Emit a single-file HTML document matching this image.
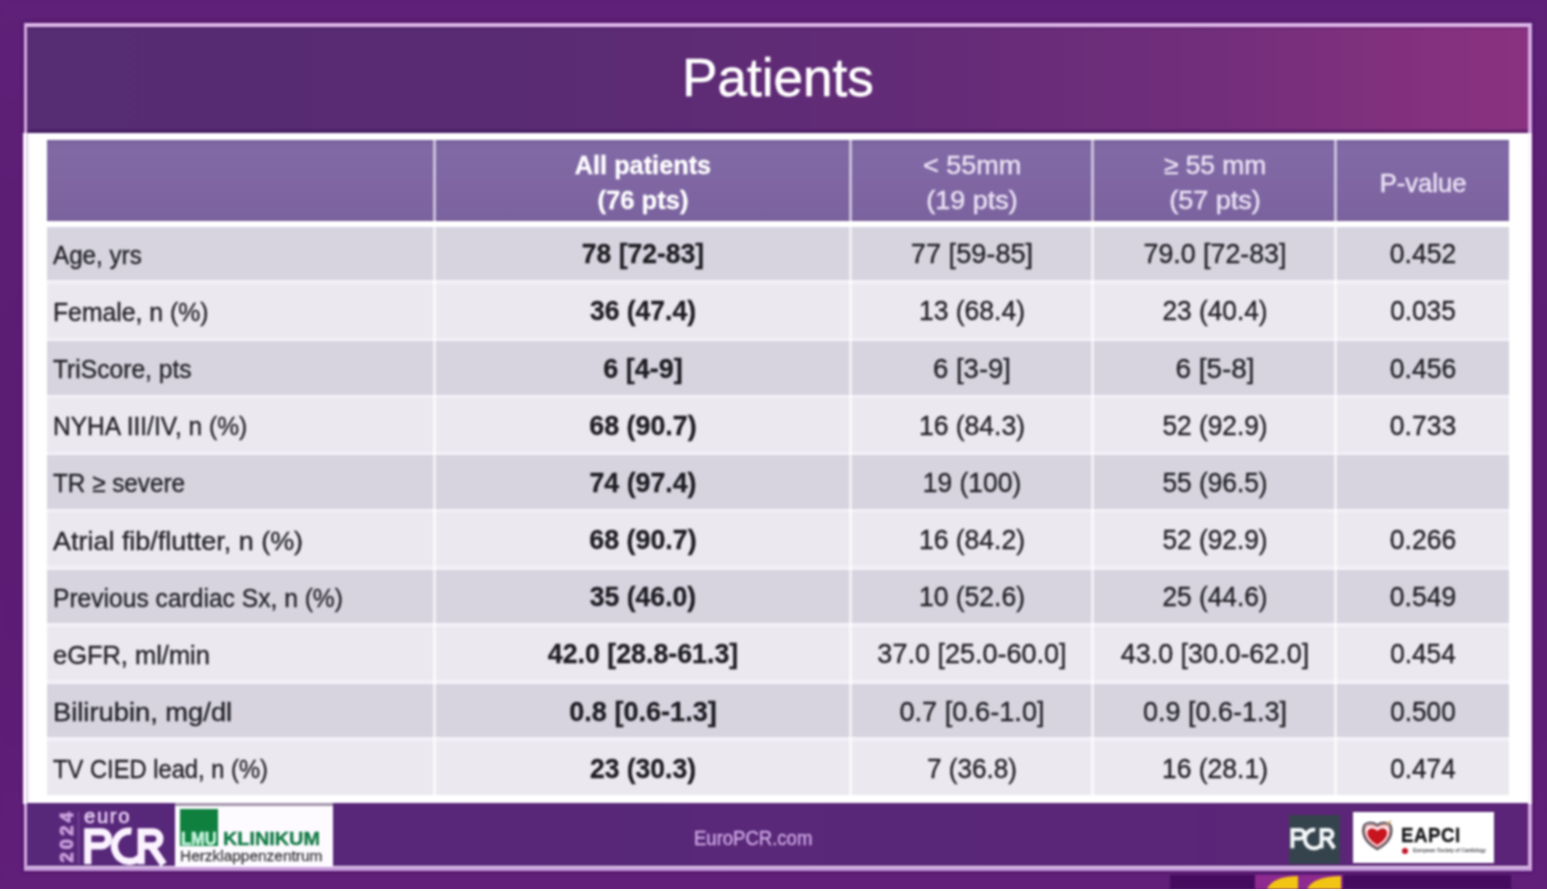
<!DOCTYPE html>
<html><head><meta charset="utf-8"><title>Patients</title>
<style>
html,body{margin:0;padding:0}
body{width:1547px;height:891px;overflow:hidden;position:relative;background:#5e2079;font-family:"Liberation Sans",sans-serif;}
.abs{position:absolute}
#stage{position:absolute;left:0;top:0;width:1547px;height:891px;overflow:hidden;filter:blur(1.0px)}
.cell{position:absolute}
.t{position:absolute;white-space:nowrap;font-size:25.8px;line-height:30px;height:30px;color:#222126;-webkit-text-stroke:0.35px #222126;}
.t.c{transform-origin:50% 50%;text-align:center}
.t.l{transform-origin:0 50%}
.t.b{font-weight:bold;color:#1d1c21;-webkit-text-stroke:0.3px #1d1c21}
.t.n{font-size:27.3px}
.h{position:absolute;white-space:nowrap;font-size:25.8px;line-height:30px;height:30px;text-align:center;transform-origin:50% 50%}

</style></head><body><div id="stage">
<div class="abs" style="left:0;top:0;width:1547px;height:891px;background:linear-gradient(180deg,#5e2078 0%,#5b1c73 45%,#5d1d76 80%,#611f7a 100%)"></div>
<div class="abs" style="left:1170px;top:875px;width:341px;height:14px;background:#440b5e"></div>
<div class="abs" style="left:1255px;top:875px;width:88px;height:14px;background:#8f2a90"></div>
<svg class="abs" style="left:1255px;top:875px" width="88" height="14" viewBox="0 0 88 14"><path d="M12 14 C16 6 26 1 43 1 L43 14 Z" fill="#f2c515"/><path d="M52 14 C56 6 68 1 86 1 L86 14 Z" fill="#f2c515"/></svg>
<div class="abs" style="left:23.6px;top:23.4px;width:1500.4px;height:840px;border:4px solid #d5aae3;border-top-color:#e0b9ea;border-bottom:4.6px solid #c69cda;background:#fff;box-shadow:0 0 3px 1px rgba(55,8,80,.55)"></div>
<div class="abs" style="left:27px;top:27px;width:1501px;height:105.8px;background:linear-gradient(180deg,rgba(40,5,70,.28) 0,rgba(40,5,70,0) 3px,rgba(40,5,70,0) 101.5px,rgba(40,5,70,.38) 104px,rgba(40,5,70,.38) 106px),linear-gradient(90deg,#562c72 0%,#592b73 32%,#632b77 58%,#712e7b 78%,#85317f 94%,#8a3280 100%)"></div>
<div class="abs" style="left:23px;top:133px;width:4px;height:671px;background:#fbf4fd"></div>
<div class="abs" style="left:1528px;top:133px;width:4px;height:671px;background:#fbf4fd"></div>
<div class="abs" id="title" style="left:478px;top:45.3px;width:600px;height:66px;line-height:66px;text-align:center;color:#fff;-webkit-text-stroke:0.55px #fff;font-size:52.8px;transform:scaleX(1.0055);transform-origin:50% 50%;white-space:nowrap">Patients</div>
<div class="cell" style="left:46.8px;top:140.0px;width:1462.2px;height:80.8px;background:linear-gradient(180deg,#745d98 0,#7f68a4 4px,#8069a5 12px,#7f66a3 60%,#7b639f 96%,#775f9a 100%)"></div>
<div class="h" id="h1a" style="left:492.5px;top:150.0px;width:300px;font-weight:bold;color:#fff;-webkit-text-stroke:0.3px #fff;transform:scaleX(0.9806)">All patients</div>
<div class="h" id="h1b" style="left:492.5px;top:184.8px;width:300px;font-weight:bold;color:#fff;-webkit-text-stroke:0.3px #fff;transform:scaleX(0.9917)">(76 pts)</div>
<div class="h" id="h2a" style="left:822.0px;top:150.0px;width:300px;color:#ebe2f4;-webkit-text-stroke:0.45px #ebe2f4;transform:scaleX(1.0458)">&lt; 55mm</div>
<div class="h" id="h2b" style="left:822.0px;top:184.8px;width:300px;color:#ebe2f4;-webkit-text-stroke:0.45px #ebe2f4;transform:scaleX(1.044)">(19 pts)</div>
<div class="h" id="h3a" style="left:1064.5px;top:150.0px;width:300px;color:#ebe2f4;-webkit-text-stroke:0.45px #ebe2f4;transform:scaleX(1.0195)">≥ 55 mm</div>
<div class="h" id="h3b" style="left:1064.5px;top:184.8px;width:300px;color:#ebe2f4;-webkit-text-stroke:0.45px #ebe2f4;transform:scaleX(1.0487)">(57 pts)</div>
<div class="h" id="h4a" style="left:1273.0px;top:167.5px;width:300px;color:#ebe2f4;-webkit-text-stroke:0.45px #ebe2f4;transform:scaleX(0.9915)">P-value</div>
<div class="cell" style="left:46.8px;top:276px;width:1462.2px;height:519px;background:#f3f1f7"></div>
<div class="cell" style="left:46.8px;top:226.7px;width:1462.2px;height:53.8px;background:#d7d4e0"></div>
<div class="t l" id="r0c0" style="left:53px;top:239.76px;transform:scaleX(0.9379)">Age, yrs</div>
<div class="t c n b" id="r0c1" style="left:492.5px;top:239.24px;width:300px;transform:scaleX(0.9721)">78 [72-83]</div>
<div class="t c n" id="r0c2" style="left:822.0px;top:239.24px;width:300px;transform:scaleX(0.9946)">77 [59-85]</div>
<div class="t c n" id="r0c3" style="left:1064.5px;top:239.24px;width:300px;transform:scaleX(0.9811)">79.0 [72-83]</div>
<div class="t c n" id="r0c4" style="left:1273.0px;top:239.24px;width:300px;transform:scaleX(0.9708)">0.452</div>
<div class="cell" style="left:46.8px;top:283.8px;width:1462.2px;height:53.8px;background:#ebe9ef"></div>
<div class="t l" id="r1c0" style="left:53px;top:296.93px;transform:scaleX(0.9596)">Female, n (%)</div>
<div class="t c n b" id="r1c1" style="left:492.5px;top:296.41px;width:300px;transform:scaleX(0.9707)">36 (47.4)</div>
<div class="t c n" id="r1c2" style="left:822.0px;top:296.41px;width:300px;transform:scaleX(0.9721)">13 (68.4)</div>
<div class="t c n" id="r1c3" style="left:1064.5px;top:296.41px;width:300px;transform:scaleX(0.963)">23 (40.4)</div>
<div class="t c n" id="r1c4" style="left:1273.0px;top:296.41px;width:300px;transform:scaleX(0.9564)">0.035</div>
<div class="cell" style="left:46.8px;top:341.0px;width:1462.2px;height:53.8px;background:#d7d4e0"></div>
<div class="t l" id="r2c0" style="left:53px;top:354.10px;transform:scaleX(0.9539)">TriScore, pts</div>
<div class="t c n b" id="r2c1" style="left:492.5px;top:353.58px;width:300px;transform:scaleX(0.9859)">6 [4-9]</div>
<div class="t c n" id="r2c2" style="left:822.0px;top:353.58px;width:300px;transform:scaleX(1.008)">6 [3-9]</div>
<div class="t c n" id="r2c3" style="left:1064.5px;top:353.58px;width:300px;transform:scaleX(1.0214)">6 [5-8]</div>
<div class="t c n" id="r2c4" style="left:1273.0px;top:353.58px;width:300px;transform:scaleX(0.9708)">0.456</div>
<div class="cell" style="left:46.8px;top:398.1px;width:1462.2px;height:53.8px;background:#ebe9ef"></div>
<div class="t l" id="r3c0" style="left:53px;top:411.27px;transform:scaleX(0.9515)">NYHA III/IV, n (%)</div>
<div class="t c n b" id="r3c1" style="left:492.5px;top:410.75px;width:300px;transform:scaleX(0.9817)">68 (90.7)</div>
<div class="t c n" id="r3c2" style="left:822.0px;top:410.75px;width:300px;transform:scaleX(0.9721)">16 (84.3)</div>
<div class="t c n" id="r3c3" style="left:1064.5px;top:410.75px;width:300px;transform:scaleX(0.963)">52 (92.9)</div>
<div class="t c n" id="r3c4" style="left:1273.0px;top:410.75px;width:300px;transform:scaleX(0.9708)">0.733</div>
<div class="cell" style="left:46.8px;top:455.2px;width:1462.2px;height:53.8px;background:#d7d4e0"></div>
<div class="t l" id="r4c0" style="left:53px;top:468.44px;transform:scaleX(0.9417)">TR ≥ severe</div>
<div class="t c n b" id="r4c1" style="left:492.5px;top:467.92px;width:300px;transform:scaleX(0.9798)">74 (97.4)</div>
<div class="t c n" id="r4c2" style="left:822.0px;top:467.92px;width:300px;transform:scaleX(0.9677)">19 (100)</div>
<div class="t c n" id="r4c3" style="left:1064.5px;top:467.92px;width:300px;transform:scaleX(0.963)">55 (96.5)</div>
<div class="cell" style="left:46.8px;top:512.4px;width:1462.2px;height:53.8px;background:#ebe9ef"></div>
<div class="t l" id="r5c0" style="left:53px;top:525.61px;transform:scaleX(1.0445)">Atrial fib/flutter, n (%)</div>
<div class="t c n b" id="r5c1" style="left:492.5px;top:525.09px;width:300px;transform:scaleX(0.9817)">68 (90.7)</div>
<div class="t c n" id="r5c2" style="left:822.0px;top:525.09px;width:300px;transform:scaleX(0.9721)">16 (84.2)</div>
<div class="t c n" id="r5c3" style="left:1064.5px;top:525.09px;width:300px;transform:scaleX(0.963)">52 (92.9)</div>
<div class="t c n" id="r5c4" style="left:1273.0px;top:525.09px;width:300px;transform:scaleX(0.9708)">0.266</div>
<div class="cell" style="left:46.8px;top:569.5px;width:1462.2px;height:53.8px;background:#d7d4e0"></div>
<div class="t l" id="r6c0" style="left:53px;top:582.78px;transform:scaleX(0.9539)">Previous cardiac Sx, n (%)</div>
<div class="t c n b" id="r6c1" style="left:492.5px;top:582.26px;width:300px;transform:scaleX(0.9726)">35 (46.0)</div>
<div class="t c n" id="r6c2" style="left:822.0px;top:582.26px;width:300px;transform:scaleX(0.9721)">10 (52.6)</div>
<div class="t c n" id="r6c3" style="left:1064.5px;top:582.26px;width:300px;transform:scaleX(0.963)">25 (44.6)</div>
<div class="t c n" id="r6c4" style="left:1273.0px;top:582.26px;width:300px;transform:scaleX(0.9708)">0.549</div>
<div class="cell" style="left:46.8px;top:626.6px;width:1462.2px;height:53.8px;background:#ebe9ef"></div>
<div class="t l" id="r7c0" style="left:53px;top:639.95px;transform:scaleX(0.9863)">eGFR, ml/min</div>
<div class="t c n b" id="r7c1" style="left:492.5px;top:639.43px;width:300px;transform:scaleX(0.9806)">42.0 [28.8-61.3]</div>
<div class="t c n" id="r7c2" style="left:822.0px;top:639.43px;width:300px;transform:scaleX(0.9897)">37.0 [25.0-60.0]</div>
<div class="t c n" id="r7c3" style="left:1064.5px;top:639.43px;width:300px;transform:scaleX(0.985)">43.0 [30.0-62.0]</div>
<div class="t c n" id="r7c4" style="left:1273.0px;top:639.43px;width:300px;transform:scaleX(0.9564)">0.454</div>
<div class="cell" style="left:46.8px;top:683.7px;width:1462.2px;height:53.8px;background:#d7d4e0"></div>
<div class="t l" id="r8c0" style="left:53px;top:697.12px;transform:scaleX(1.0589)">Bilirubin, mg/dl</div>
<div class="t c n b" id="r8c1" style="left:492.5px;top:696.60px;width:300px;transform:scaleX(0.9918)">0.8 [0.6-1.3]</div>
<div class="t c n" id="r8c2" style="left:822.0px;top:696.60px;width:300px;transform:scaleX(0.9965)">0.7 [0.6-1.0]</div>
<div class="t c n" id="r8c3" style="left:1064.5px;top:696.60px;width:300px;transform:scaleX(0.9881)">0.9 [0.6-1.3]</div>
<div class="t c n" id="r8c4" style="left:1273.0px;top:696.60px;width:300px;transform:scaleX(0.9564)">0.500</div>
<div class="cell" style="left:46.8px;top:740.9px;width:1462.2px;height:53.8px;background:#ebe9ef"></div>
<div class="t l" id="r9c0" style="left:53px;top:754.29px;transform:scaleX(0.9199)">TV CIED lead, n (%)</div>
<div class="t c n b" id="r9c1" style="left:492.5px;top:753.77px;width:300px;transform:scaleX(0.9707)">23 (30.3)</div>
<div class="t c n" id="r9c2" style="left:822.0px;top:753.77px;width:300px;transform:scaleX(0.9567)">7 (36.8)</div>
<div class="t c n" id="r9c3" style="left:1064.5px;top:753.77px;width:300px;transform:scaleX(0.9721)">16 (28.1)</div>
<div class="t c n" id="r9c4" style="left:1273.0px;top:753.77px;width:300px;transform:scaleX(0.9564)">0.474</div>
<div class="abs" style="left:432.7px;top:139px;width:3px;height:83px;background:rgba(255,255,255,.58)"></div>
<div class="abs" style="left:432.7px;top:222px;width:3px;height:575px;background:rgba(255,255,255,.66)"></div>
<div class="abs" style="left:849.2px;top:139px;width:3px;height:83px;background:rgba(255,255,255,.58)"></div>
<div class="abs" style="left:849.2px;top:222px;width:3px;height:575px;background:rgba(255,255,255,.66)"></div>
<div class="abs" style="left:1091.2px;top:139px;width:3px;height:83px;background:rgba(255,255,255,.58)"></div>
<div class="abs" style="left:1091.2px;top:222px;width:3px;height:575px;background:rgba(255,255,255,.66)"></div>
<div class="abs" style="left:1333.8px;top:139px;width:3px;height:83px;background:rgba(255,255,255,.58)"></div>
<div class="abs" style="left:1333.8px;top:222px;width:3px;height:575px;background:rgba(255,255,255,.66)"></div>
<div class="abs" style="left:27px;top:802.8px;width:1501px;height:63.2px;background:linear-gradient(90deg,#57277a 0%,#592878 50%,#5c2478 100%)"></div>

<div class="abs" style="left:0;top:0;width:0;height:0;transform:translate(74.4px,862.60px) rotate(-90deg);transform-origin:0 0"><div class="abs" style="left:-0.00px;top:-17.54px;white-space:nowrap;font-size:17.6px;line-height:22.9px;font-weight:bold;color:#c9a0dc;-webkit-text-stroke:0.9px #c9a0dc;letter-spacing:3.2px;transform:scaleX(1.0338);transform-origin:0 50%">2024</div></div>
<div class="abs" style="left:78.2px;top:811.5px;width:1.3px;height:53px;background:#8655a4"></div>
<div class="abs" style="left:83.60px;top:804.09px;white-space:nowrap;font-size:19.8px;line-height:25.7px;font-weight:normal;font-style:normal;color:#e6cff2;letter-spacing:1.6px;transform:scaleX(1.0259);transform-origin:0 50%;-webkit-text-stroke:0.6px #e6cff2;">euro</div>
<svg class="abs" style="left:80px;top:824px" width="92" height="44" viewBox="80 824 92 44"><g fill="none" stroke="#fbf3ff" stroke-width="7.2" stroke-linejoin="miter"><path d="M87.8 864.3 V831.8 H101.5 a7 7 0 0 1 0 14 H87.8"/><path d="M131.5 831.3 A15.1 15.1 0 1 0 141.5 855.6"/><path d="M141.2 864.3 V831.8 H153 a7 7 0 0 1 0 14 H141.2"/><path d="M151.5 846.5 L163.6 864.3" stroke-width="7.4"/></g></svg>
<div class="abs" style="left:175px;top:806px;width:157.5px;height:61px;background:#fdfbff"></div>
<div class="abs" style="left:175px;top:802.6px;width:157.5px;height:3.4px;background:#a494ad"></div>
<div class="abs" style="left:180px;top:809.3px;width:38.4px;height:37px;background:#10803f"></div>
<div class="abs" style="left:181.40px;top:827.58px;white-space:nowrap;font-size:17.8px;line-height:23.1px;font-weight:bold;font-style:normal;color:#c3f3dd;letter-spacing:0px;transform:scaleX(0.9235);transform-origin:0 50%;-webkit-text-stroke:0.7px #c3f3dd;">LMU</div>
<div class="abs" style="left:222.80px;top:827.58px;white-space:nowrap;font-size:17.8px;line-height:23.1px;font-weight:bold;font-style:normal;color:#157c47;letter-spacing:0px;transform:scaleX(1.1149);transform-origin:0 50%;-webkit-text-stroke:0.4px #157c47;">KLINIKUM</div>
<div class="abs" style="left:180.40px;top:847.16px;white-space:nowrap;font-size:14.4px;line-height:18.7px;font-weight:normal;font-style:normal;color:#3b3a3c;letter-spacing:0px;transform:scaleX(1.0719);transform-origin:0 50%;-webkit-text-stroke:0.3px #3b3a3c;">Herzklappenzentrum</div>
<div class="abs" style="left:693.80px;top:825.88px;white-space:nowrap;font-size:19.4px;line-height:25.2px;font-weight:normal;font-style:normal;color:#cfaae6;letter-spacing:0px;transform:scaleX(0.9548);transform-origin:0 50%;-webkit-text-stroke:0.35px #cfaae6;">EuroPCR.com</div>
<div class="abs" style="left:1289.3px;top:814.8px;width:50.5px;height:49px;background:#35434d"></div>
<svg class="abs" style="left:1289px;top:824px" width="50" height="28" viewBox="0 0 50 28"><g fill="none" stroke="#f4f7f8" stroke-width="4"><path d="M3.4 24.3 V6 H11.2 a4.2 4.2 0 0 1 0 8.4 H3.4"/><path d="M26.2 5.9 A9.2 9.2 0 1 0 32.4 20.6"/><path d="M32.6 24.3 V6 H39.2 a4.2 4.2 0 0 1 0 8.4 H32.6"/><path d="M38.6 14.6 L45.2 24.3" stroke-width="4.3"/></g></svg>
<div class="abs" style="left:1353px;top:812.3px;width:140.5px;height:50.5px;background:#fff"></div>
<svg class="abs" style="left:1360px;top:818px" width="36" height="36" viewBox="1360 818 36 36"><path d="M1364.2 825.2 C1367 822.2 1373 822 1377.3 825 C1381.6 822 1387.6 822.2 1390.4 825.2 C1393 832 1391.5 841.5 1377.3 849.2 C1363.1 841.5 1361.6 832 1364.2 825.2 Z" fill="#fff" stroke="#4a4450" stroke-width="2"/><path d="M1365.8 827 C1368.3 824.6 1373.4 824.6 1377.3 827.3 C1381.2 824.6 1386.3 824.6 1388.8 827 C1391 833 1389.5 840.5 1377.3 847 C1365.100 840.5 1363.6 833 1365.8 827 Z" fill="none" stroke="#c4202a" stroke-width="0.9"/><path d="M1377.3 845 C1368.5 839.8 1366.6 834.6 1367.6 831.2 C1368.8 827.6 1374.2 827.2 1377.3 831 C1380.4 827.2 1385.8 827.6 1387 831.2 C1388 834.6 1386.1 839.8 1377.3 845 Z" fill="#c8141f"/><path d="M1386.5 824.5 L1391.2 820.8" stroke="#d9a34a" stroke-width="1.3" fill="none"/></svg>
<div class="abs" style="left:1401.40px;top:822.08px;white-space:nowrap;font-size:20.4px;line-height:26.5px;font-weight:bold;font-style:normal;color:#17161a;letter-spacing:0.6px;transform:scaleX(0.9143);transform-origin:0 50%;-webkit-text-stroke:0.4px #17161a;">EAPCI</div>
<div class="abs" style="left:1402.3px;top:848.3px;width:5.4px;height:5.4px;border-radius:50%;background:#c2182b"></div>
<div class="abs" style="left:1412.50px;top:847.41px;white-space:nowrap;font-size:5.6px;line-height:7.3px;font-weight:normal;font-style:normal;color:#6a6a70;letter-spacing:0px;transform:scaleX(0.9270);transform-origin:0 50%;-webkit-text-stroke:0.25px #6a6a70;">European Society of Cardiology</div>
</div>
<div class="abs" style="left:0;top:889px;width:1547px;height:2px;background:#fff"></div>
</body></html>
